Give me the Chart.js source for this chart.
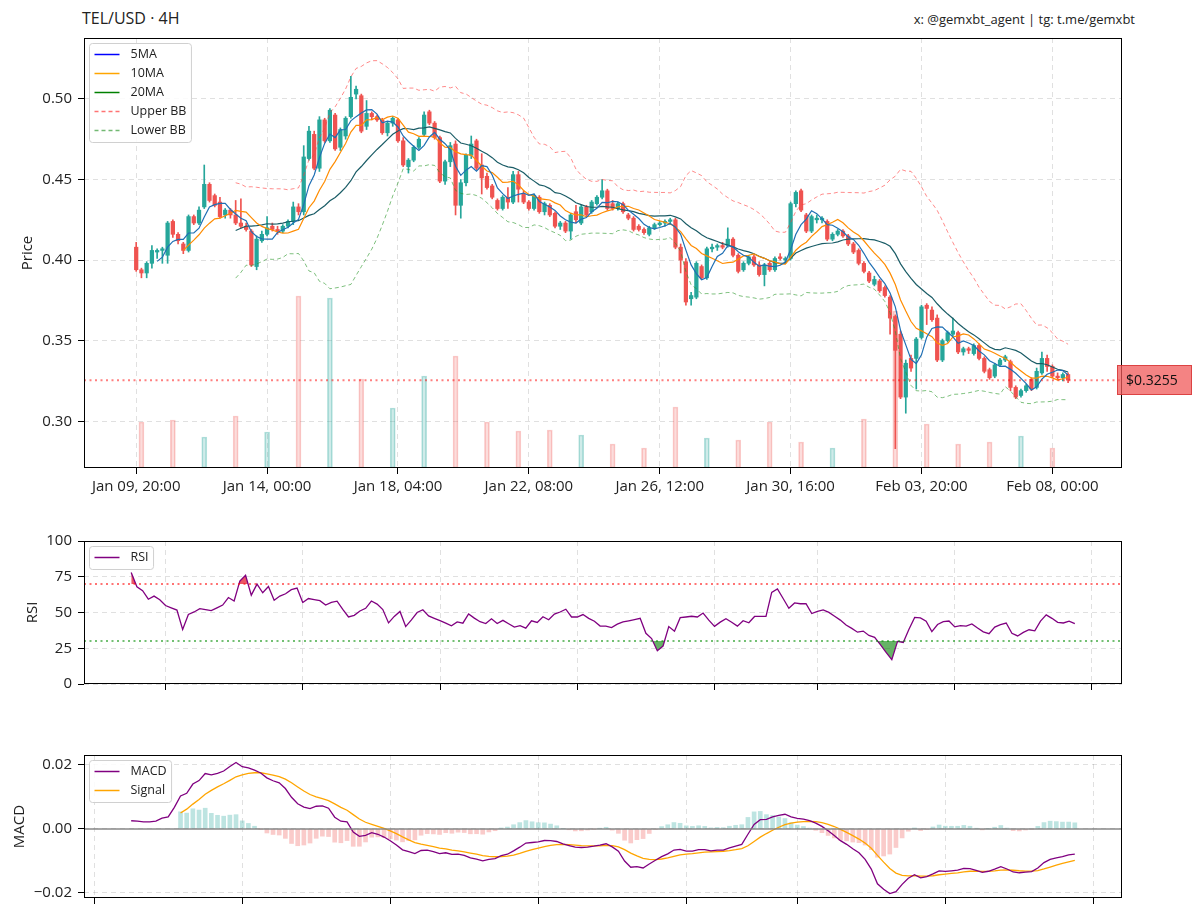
<!DOCTYPE html>
<html>
<head>
<meta charset="utf-8">
<title>TEL/USD 4H</title>
<script src="https://cdn.jsdelivr.net/npm/chart.js@4.4.1/dist/chart.umd.min.js"></script>
<style>
  html, body { margin: 0; padding: 0; background: #fff; }
  body { position: relative; width: 1200px; height: 916px; overflow: hidden; font-family: 'Open Sans', sans-serif; color: #222; }
  canvas { position: absolute; left: 0; }
  #title { position: absolute; left: 82px; top: 7px; font-size: 16px; }
  #credit { position: absolute; right: 65px; top: 10px; font-size: 13px; }
</style>
</head>
<body>
<div id="title">TEL/USD · 4H</div>
<div id="credit">x: @gemxbt_agent | tg: t.me/gemxbt</div>
<canvas id="price" width="1200" height="490" style="top:20px"></canvas>
<canvas id="rsi" width="1200" height="195" style="top:520px"></canvas>
<canvas id="macd" width="1200" height="181" style="top:735px"></canvas>
<script>
/* ---- values ---- */
const xLabels = ['Jan 09, 20:00', 'Jan 14, 00:00', 'Jan 18, 04:00', 'Jan 22, 08:00',
  'Jan 26, 12:00', 'Jan 30, 16:00', 'Feb 03, 20:00', 'Feb 08, 00:00'];
const xLabelStep = 25;                       // one label every 25 candles
const priceTicks = [0.30, 0.35, 0.40, 0.45, 0.50];
const rsiTicks = [0, 25, 50, 75, 100];
const macdTicks = [-0.02, 0, 0.02];
const startTime = Date.UTC(2025, 0, 9, 20); // first candle, Jan 09 20:00
const subTickDays = ['2025-01-13', '2025-01-17', '2025-01-21', '2025-01-25',
  '2025-01-29', '2025-02-01', '2025-02-05', '2025-02-09'];

const open = [
  0.408,0.394,0.392,0.398,0.405,0.406,0.403,0.424,0.416,0.410,
  0.406,0.427,0.423,0.433,0.447,0.440,0.436,0.428,0.431,0.428,
  0.423,0.421,0.418,0.396,0.412,0.416,0.421,0.419,0.418,0.421,
  0.424,0.433,0.430,0.463,0.478,0.457,0.487,0.474,0.490,0.470,
  0.477,0.489,0.503,0.502,0.483,0.491,0.489,0.487,0.479,0.485,
  0.487,0.474,0.458,0.462,0.470,0.478,0.492,0.485,0.476,0.449,
  0.461,0.472,0.434,0.448,0.465,0.474,0.459,0.452,0.446,0.437,
  0.432,0.439,0.436,0.453,0.441,0.436,0.432,0.439,0.430,0.434,
  0.429,0.421,0.423,0.418,0.430,0.423,0.433,0.430,0.435,0.439,
  0.443,0.435,0.432,0.435,0.428,0.426,0.421,0.419,0.416,0.420,
  0.422,0.423,0.424,0.425,0.408,0.399,0.376,0.377,0.396,0.389,
  0.407,0.408,0.409,0.409,0.413,0.403,0.394,0.398,0.402,0.397,
  0.391,0.398,0.394,0.402,0.400,0.401,0.435,0.443,0.428,0.418,
  0.425,0.425,0.424,0.413,0.416,0.418,0.415,0.410,0.406,0.398,
  0.392,0.385,0.387,0.383,0.377,0.365,0.354,0.315,0.339,0.339,
  0.352,0.372,0.369,0.364,0.338,0.350,0.354,0.355,0.343,0.345,
  0.342,0.347,0.339,0.332,0.328,0.335,0.338,0.337,0.321,0.316,
  0.319,0.326,0.321,0.330,0.339,0.334,0.328,0.327,0.329
];
const high = [
  0.411,0.395,0.399,0.409,0.407,0.408,0.424,0.425,0.417,0.411,
  0.428,0.428,0.433,0.459,0.448,0.441,0.439,0.432,0.432,0.437,
  0.438,0.423,0.419,0.415,0.418,0.427,0.423,0.421,0.422,0.425,
  0.436,0.435,0.471,0.483,0.480,0.489,0.488,0.494,0.491,0.482,
  0.489,0.514,0.508,0.503,0.499,0.492,0.490,0.488,0.486,0.489,
  0.488,0.476,0.463,0.471,0.476,0.492,0.493,0.486,0.477,0.462,
  0.473,0.474,0.450,0.466,0.477,0.475,0.466,0.454,0.447,0.438,
  0.440,0.445,0.455,0.455,0.443,0.437,0.441,0.440,0.436,0.435,
  0.430,0.424,0.424,0.429,0.434,0.434,0.434,0.437,0.440,0.450,
  0.444,0.437,0.436,0.436,0.429,0.427,0.422,0.420,0.421,0.423,
  0.424,0.425,0.426,0.426,0.410,0.401,0.380,0.399,0.397,0.408,
  0.410,0.410,0.411,0.420,0.414,0.404,0.399,0.403,0.403,0.399,
  0.398,0.399,0.402,0.404,0.402,0.436,0.443,0.444,0.429,0.428,
  0.428,0.427,0.425,0.417,0.419,0.419,0.416,0.411,0.407,0.399,
  0.393,0.390,0.388,0.384,0.378,0.366,0.356,0.338,0.341,0.352,
  0.372,0.373,0.371,0.366,0.351,0.356,0.364,0.356,0.346,0.346,
  0.348,0.348,0.340,0.333,0.336,0.339,0.341,0.338,0.322,0.320,
  0.323,0.327,0.333,0.343,0.341,0.335,0.330,0.330,0.330
];
const low = [
  0.393,0.389,0.389,0.395,0.401,0.398,0.398,0.414,0.410,0.404,
  0.405,0.422,0.422,0.432,0.436,0.433,0.426,0.426,0.426,0.422,
  0.420,0.418,0.396,0.394,0.411,0.415,0.418,0.416,0.417,0.420,
  0.422,0.428,0.428,0.462,0.456,0.455,0.473,0.473,0.468,0.468,
  0.475,0.488,0.500,0.479,0.481,0.487,0.486,0.478,0.477,0.483,
  0.473,0.458,0.454,0.461,0.469,0.477,0.484,0.475,0.448,0.447,
  0.458,0.428,0.426,0.446,0.463,0.456,0.441,0.444,0.438,0.431,
  0.431,0.432,0.435,0.436,0.435,0.431,0.431,0.429,0.428,0.427,
  0.420,0.419,0.417,0.413,0.423,0.422,0.427,0.429,0.434,0.438,
  0.431,0.431,0.431,0.429,0.425,0.418,0.418,0.416,0.415,0.419,
  0.421,0.421,0.422,0.407,0.392,0.372,0.372,0.376,0.388,0.388,
  0.405,0.406,0.407,0.408,0.402,0.392,0.393,0.397,0.396,0.390,
  0.384,0.393,0.393,0.400,0.398,0.400,0.433,0.430,0.417,0.417,
  0.423,0.423,0.412,0.412,0.415,0.414,0.409,0.404,0.397,0.392,
  0.386,0.384,0.380,0.377,0.354,0.283,0.314,0.305,0.331,0.320,
  0.351,0.360,0.362,0.337,0.337,0.349,0.353,0.342,0.341,0.342,
  0.341,0.338,0.330,0.326,0.327,0.334,0.337,0.319,0.314,0.315,
  0.318,0.319,0.320,0.329,0.331,0.327,0.326,0.325,0.324
];
const close = [
  0.394,0.392,0.398,0.406,0.406,0.407,0.423,0.416,0.412,0.406,
  0.427,0.423,0.431,0.447,0.437,0.434,0.427,0.431,0.428,0.423,
  0.421,0.419,0.397,0.413,0.416,0.420,0.419,0.418,0.421,0.424,
  0.433,0.430,0.464,0.480,0.457,0.487,0.474,0.493,0.469,0.481,
  0.488,0.501,0.506,0.480,0.491,0.489,0.487,0.479,0.485,0.488,
  0.474,0.459,0.462,0.470,0.475,0.490,0.485,0.476,0.449,0.461,
  0.471,0.434,0.448,0.465,0.472,0.457,0.451,0.445,0.439,0.432,
  0.439,0.436,0.453,0.444,0.436,0.432,0.440,0.430,0.435,0.428,
  0.421,0.423,0.418,0.428,0.425,0.433,0.428,0.436,0.439,0.443,
  0.432,0.432,0.435,0.430,0.426,0.419,0.419,0.417,0.420,0.422,
  0.423,0.424,0.425,0.408,0.400,0.374,0.378,0.398,0.389,0.407,
  0.408,0.409,0.408,0.413,0.403,0.393,0.398,0.402,0.397,0.391,
  0.397,0.394,0.401,0.401,0.401,0.435,0.442,0.431,0.418,0.427,
  0.426,0.426,0.413,0.416,0.418,0.415,0.410,0.405,0.398,0.393,
  0.387,0.388,0.381,0.378,0.364,0.344,0.315,0.336,0.333,0.351,
  0.371,0.370,0.363,0.338,0.350,0.355,0.356,0.343,0.345,0.344,
  0.347,0.339,0.331,0.327,0.335,0.338,0.340,0.321,0.315,0.319,
  0.322,0.320,0.331,0.339,0.334,0.328,0.327,0.329,0.3255
];
// daily volume, shown on every 6th candle starting at candle 1
const volStart = 1, volStep = 6, volMax = 4300;
const volume = [460, 480, 310, 520, 360, 1720, 1700, 890, 600, 920,
  1120, 460, 370, 380, 330, 240, 200, 610, 300, 280,
  460, 260, 200, 490, 1570, 440, 240, 260, 320, 200];

/* ---- indicators ---- */
const n = close.length;
const idx = close.map((_, i) => i);
const sma = (arr, w) => arr.map((_, i) => i < w - 1 ? null : arr.slice(i - w + 1, i + 1).reduce((a, b) => a + b, 0) / w);
const rstd = (arr, w) => arr.map((_, i) => {
  if (i < w - 1) return null;
  const s = arr.slice(i - w + 1, i + 1), m = s.reduce((a, b) => a + b, 0) / w;
  return Math.sqrt(s.reduce((a, b) => a + (b - m) ** 2, 0) / w);
});
const ewm = (arr, alpha, minP) => {
  let prev = null, cnt = 0;
  return arr.map(v => {
    if (v == null) return null;
    prev = prev == null ? v : alpha * v + (1 - alpha) * prev;
    cnt++;
    return cnt >= minP ? prev : null;
  });
};
const xy = arr => arr.map((v, i) => ({ x: i, y: v })).filter(p => p.y != null);
const span = arr => {
  const f = arr.findIndex(v => v != null), l = arr.length - 1, m = 0.05 * (l - f);
  return [f - m, l + m];
};

const ma5 = sma(close, 5), ma10 = sma(close, 10), ma20 = sma(close, 20);
const sd20 = rstd(close, 20);
const bbUp = ma20.map((m, i) => m == null ? null : m + 2 * sd20[i]);
const bbLo = ma20.map((m, i) => m == null ? null : m - 2 * sd20[i]);

const up = close.map((c, i) => i ? Math.max(c - close[i - 1], 0) : 0);
const dn = close.map((c, i) => i ? Math.max(close[i - 1] - c, 0) : 0);
const avgUp = ewm(up, 1 / 14, 14), avgDn = ewm(dn, 1 / 14, 14);
const rsi = avgUp.map((u, i) => u == null ? null : avgDn[i] === 0 ? 100 : 100 - 100 / (1 + u / avgDn[i]));

const emaFast = ewm(close, 2 / 13, 12), emaSlow = ewm(close, 2 / 27, 26);
const macd = close.map((_, i) => emaSlow[i] == null ? null : emaFast[i] - emaSlow[i]);
const signal = ewm(macd, 2 / 10, 9);
const hist = macd.map((m, i) => signal[i] == null ? null : m - signal[i]);

const lastClose = close[n - 1];
const UP = '#26a69a', DOWN = '#ef5350';
const candleColor = idx.map(i => close[i] >= open[i] ? UP : DOWN);
const subTicks = subTickDays.map(d => (Date.parse(d + 'T00:00:00Z') - startTime) / (4 * 3600e3));

/* ---- shared look ---- */
Chart.defaults.font.family = "'Open Sans', sans-serif";
Chart.defaults.font.size = 15;
Chart.defaults.color = '#222';
Chart.defaults.animation = false;
Chart.defaults.plugins.legend.display = false;
Chart.defaults.plugins.tooltip.enabled = false;

const grid = { color: 'rgba(0,0,0,0.12)', tickColor: '#000', tickLength: 6, tickWidth: 1, tickBorderDash: [] };
const border = { display: false, dash: [5, 4] };
const fixTicks = vals => s => { s.ticks = vals.map(v => ({ value: v })); };
const AXIS_W = 84;

const frame = {
  id: 'frame',
  afterDraw(chart) {
    const { ctx, chartArea: a } = chart;
    ctx.save();
    ctx.strokeStyle = '#000';
    ctx.lineWidth = 1;
    ctx.strokeRect(Math.round(a.left) + 0.5, Math.round(a.top) + 0.5,
      Math.round(a.right - a.left) - 1, Math.round(a.bottom - a.top) - 1);
    ctx.restore();
  }
};

const hlines = {
  id: 'hlines',
  afterDatasetsDraw(chart, args, opts) {
    const { ctx, chartArea: a, scales } = chart;
    (opts.lines || []).forEach(l => {
      const y = scales.y.getPixelForValue(l.value);
      ctx.save();
      ctx.strokeStyle = l.color;
      ctx.lineWidth = l.width;
      ctx.setLineDash(l.dash || []);
      ctx.beginPath();
      ctx.moveTo(a.left, y);
      ctx.lineTo(a.right, y);
      ctx.stroke();
      ctx.restore();
    });
  }
};

const boxLegend = {
  id: 'boxLegend',
  afterDraw(chart, args, opts) {
    if (!opts.items) return;
    const { ctx, chartArea: a } = chart;
    ctx.save();
    ctx.font = "12.5px 'Open Sans', sans-serif";
    const tw = Math.max(...opts.items.map(it => ctx.measureText(it.text).width));
    const x = Math.round(a.left) + 5.5, y = Math.round(a.top) + 5.5;
    const w = 46 + tw, h = opts.items.length * 19 + 4;
    ctx.beginPath();
    ctx.roundRect(x, y, w, h, 3);
    ctx.fillStyle = 'rgba(255,255,255,0.85)';
    ctx.fill();
    ctx.strokeStyle = '#d0d0d0';
    ctx.lineWidth = 1;
    ctx.stroke();
    opts.items.forEach((it, k) => {
      const cy = y + 11 + k * 19;
      ctx.strokeStyle = it.color;
      ctx.lineWidth = 1.5;
      ctx.setLineDash(it.dash || []);
      ctx.beginPath();
      ctx.moveTo(x + 5, cy);
      ctx.lineTo(x + 30, cy);
      ctx.stroke();
      ctx.setLineDash([]);
      ctx.fillStyle = '#222';
      ctx.textBaseline = 'middle';
      ctx.fillText(it.text, x + 41, cy);
    });
    ctx.restore();
  }
};

const priceTag = {
  id: 'priceTag',
  afterDraw(chart) {
    const { ctx, chartArea: a, scales } = chart;
    const y = Math.round(scales.y.getPixelForValue(lastClose));
    ctx.save();
    ctx.fillStyle = 'rgba(240,90,90,0.75)';
    ctx.strokeStyle = 'rgba(210,40,40,0.7)';
    ctx.fillRect(a.right - 5, y - 15, 75, 30);
    ctx.strokeRect(a.right - 4.5, y - 14.5, 74, 29);
    ctx.fillStyle = '#111';
    ctx.font = "14px 'Open Sans', sans-serif";
    ctx.textBaseline = 'middle';
    ctx.fillText('$' + lastClose.toFixed(4), a.right + 4, y + 1);
    ctx.restore();
  }
};

/* ---- price panel ---- */
new Chart(document.getElementById('price'), {
  type: 'bar',
  plugins: [frame, hlines, boxLegend, priceTag],
  data: {
    datasets: [
      { type: 'line', label: '5MA', data: xy(ma5), borderColor: '#1f6fb4', borderWidth: 1.2, pointRadius: 0, order: 1 },
      { type: 'line', label: '10MA', data: xy(ma10), borderColor: '#ff8c00', borderWidth: 1.2, pointRadius: 0, order: 1 },
      { type: 'line', label: '20MA', data: xy(ma20), borderColor: '#1a5c66', borderWidth: 1.2, pointRadius: 0, order: 1 },
      { type: 'line', label: 'Upper BB', data: xy(bbUp), borderColor: 'rgba(255,60,60,0.6)', borderDash: [4, 3], borderWidth: 1, pointRadius: 0, order: 1 },
      { type: 'line', label: 'Lower BB', data: xy(bbLo), borderColor: 'rgba(40,150,40,0.6)', borderDash: [4, 3], borderWidth: 1, pointRadius: 0, order: 1 },
      { label: 'body', data: idx.map(i => ({ x: i, y: [open[i], close[i]] })), backgroundColor: candleColor,
        barThickness: 3.6, minBarLength: 1, grouped: false, order: 2 },
      { label: 'wick', data: idx.map(i => ({ x: i, y: [low[i], high[i]] })), backgroundColor: candleColor,
        barThickness: 1, grouped: false, order: 3 },
      { label: 'volume', yAxisID: 'yv', data: volume.map((v, k) => ({ x: volStart + k * volStep, y: v })),
        backgroundColor: volume.map((v, k) => candleColor[volStart + k * volStep] === UP ? 'rgba(38,166,154,0.22)' : 'rgba(239,83,80,0.2)'),
        borderColor: volume.map((v, k) => candleColor[volStart + k * volStep] === UP ? 'rgba(38,166,154,0.35)' : 'rgba(239,83,80,0.3)'),
        borderWidth: 1, borderSkipped: false, barThickness: 5, grouped: false, order: 4 }
    ]
  },
  options: {
    responsive: false,
    layout: { padding: { top: 18, right: 78, left: 0, bottom: 0 } },
    plugins: {
      hlines: { lines: [{ value: lastClose, color: 'rgba(255,0,0,0.5)', width: 2, dash: [2, 3.5] }] },
      boxLegend: { items: [
        { text: '5MA', color: '#0000ff' },
        { text: '10MA', color: '#ffa500' },
        { text: '20MA', color: '#008000' },
        { text: 'Upper BB', color: 'rgba(255,0,0,0.55)', dash: [4, 3] },
        { text: 'Lower BB', color: 'rgba(0,128,0,0.55)', dash: [4, 3] }
      ] }
    },
    scales: {
      x: {
        type: 'linear', min: -9.97, max: 188.3, offset: false,
        grid: { ...grid, offset: false }, border,
        ticks: { autoSkip: false, maxRotation: 0, padding: 4, callback: (v, i) => xLabels[i] },
        afterBuildTicks: fixTicks(xLabels.map((_, k) => k * xLabelStep)),
        afterFit: s => { s.height = 42; }
      },
      y: {
        min: 0.271, max: 0.5378,
        grid, border,
        ticks: { padding: 6, callback: v => v.toFixed(2) },
        afterBuildTicks: fixTicks(priceTicks),
        afterFit: s => { s.width = AXIS_W; },
        title: { display: true, text: 'Price', padding: { top: 18.5, bottom: 0 } }
      },
      yv: { display: false, min: 0, max: volMax }
    }
  }
});

/* ---- RSI panel ---- */
const rsiRange = span(rsi);
new Chart(document.getElementById('rsi'), {
  type: 'line',
  plugins: [frame, hlines, boxLegend],
  data: {
    datasets: [
      { label: 'RSI', data: xy(rsi), borderColor: '#800080', borderWidth: 1.3, pointRadius: 0,
        fill: { target: { value: 70 }, above: 'rgba(230,30,50,0.75)', below: 'rgba(0,0,0,0)' } },
      { label: 'oversold', data: xy(rsi), borderColor: 'rgba(0,0,0,0)', borderWidth: 0, pointRadius: 0,
        fill: { target: { value: 30 }, above: 'rgba(0,0,0,0)', below: 'rgba(0,128,0,0.6)' } }
    ]
  },
  options: {
    responsive: false,
    layout: { padding: { top: 21, right: 78, left: 0, bottom: 0 } },
    plugins: {
      hlines: { lines: [
        { value: 70, color: 'rgba(255,0,0,0.55)', width: 2, dash: [2, 3.5] },
        { value: 30, color: 'rgba(0,140,0,0.55)', width: 2, dash: [2, 3.5] }
      ] },
      boxLegend: { items: [{ text: 'RSI', color: '#800080' }] }
    },
    scales: {
      x: {
        type: 'linear', min: rsiRange[0], max: rsiRange[1],
        grid, border,
        ticks: { autoSkip: false, callback: () => '' },
        afterBuildTicks: fixTicks(subTicks),
        afterFit: s => { s.height = 31; }
      },
      y: {
        min: 0, max: 100,
        grid, border,
        ticks: { padding: 6 },
        afterBuildTicks: fixTicks(rsiTicks),
        afterFit: s => { s.width = AXIS_W; },
        title: { display: true, text: 'RSI', padding: { top: 24, bottom: 0 } }
      }
    }
  }
});

/* ---- MACD panel ---- */
const macdRange = span(macd);
new Chart(document.getElementById('macd'), {
  type: 'bar',
  plugins: [frame, hlines, boxLegend],
  data: {
    datasets: [
      { type: 'line', label: 'MACD', data: xy(macd), borderColor: '#800080', borderWidth: 1.3, pointRadius: 0, order: 1 },
      { type: 'line', label: 'Signal', data: xy(signal), borderColor: '#ffa500', borderWidth: 1.3, pointRadius: 0, order: 1 },
      { label: 'Histogram', data: xy(hist),
        backgroundColor: xy(hist).map(p => p.y >= 0 ? 'rgba(38,166,154,0.3)' : 'rgba(239,83,80,0.3)'),
        barThickness: 4, grouped: false, order: 3 }
    ]
  },
  options: {
    responsive: false,
    layout: { padding: { top: 20, right: 78, left: 0, bottom: 0 } },
    plugins: {
      hlines: { lines: [{ value: 0, color: 'rgba(128,128,128,0.7)', width: 2 }] },
      boxLegend: { items: [{ text: 'MACD', color: '#800080' }, { text: 'Signal', color: '#ffa500' }] }
    },
    scales: {
      x: {
        type: 'linear', min: macdRange[0], max: macdRange[1], offset: false,
        grid: { ...grid, offset: false }, border,
        ticks: { autoSkip: false, callback: () => '' },
        afterBuildTicks: fixTicks(subTicks),
        afterFit: s => { s.height = 18; }
      },
      y: {
        min: -0.0216, max: 0.0231,
        grid, border,
        ticks: { padding: 6, callback: v => (v < 0 ? '\u2212' : '') + Math.abs(v).toFixed(2) },
        afterBuildTicks: fixTicks(macdTicks),
        afterFit: s => { s.width = AXIS_W; },
        title: { display: true, text: 'MACD', padding: { top: 11, bottom: 0 } }
      }
    }
  }
});
</script>
</body>
</html>
